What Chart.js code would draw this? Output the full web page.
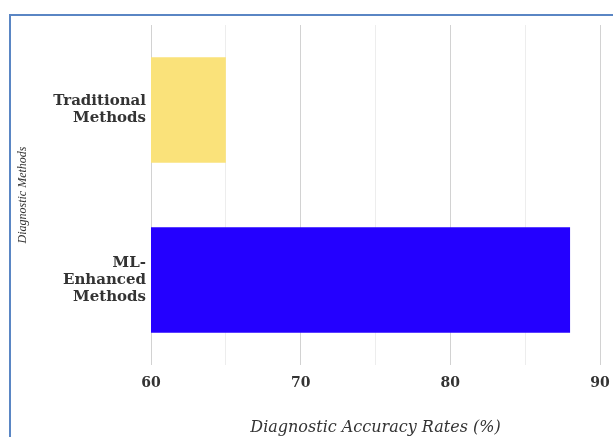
<!DOCTYPE html>
<html>
<head>
<meta charset="utf-8">
<script src="https://cdn.jsdelivr.net/npm/chart.js@4/dist/chart.umd.min.js"></script>
<style>
  html, body { margin: 0; padding: 0; background: #fff; overflow: hidden; }
  #wrap { position: relative; width: 613px; height: 437px; }
  #chart { position: absolute; left: 0; top: 0; }
  #frame {
    position: absolute; left: 9px; top: 14px; width: 640px; height: 460px;
    border-top: 2px solid #5a86c4; border-left: 2px solid #5a86c4;
    pointer-events: none; box-sizing: border-box;
  }
</style>
</head>
<body>
<div id="wrap">
  <canvas id="chart" width="613" height="437"></canvas>
  <div id="frame"></div>
</div>
<script>
// Diagnostic methods and their accuracy rates (%)
const methods = [["Traditional", "Methods"], ["ML-", "Enhanced", "Methods"]];
const accuracy = [65, 88];
const barColors = ["#fae27a", "#2400ff"];
const xMin = 60;
const xMax = 90;
const xStep = 5;

const serifBold = { family: "'DejaVu Serif', serif", size: 15, weight: "bold", lineHeight: 1.13 };

new Chart(document.getElementById("chart"), {
  type: "bar",
  data: {
    labels: methods,
    datasets: [{
      label: "Diagnostic Accuracy Rates (%)",
      data: accuracy,
      backgroundColor: barColors,
      borderWidth: 0,
      categoryPercentage: 1,
      barPercentage: 0.62
    }]
  },
  options: {
    indexAxis: "y",
    responsive: false,
    devicePixelRatio: 1,
    animation: false,
    layout: { padding: { top: 25, right: 13, left: 0, bottom: 0 } },
    plugins: {
      legend: { display: false },
      tooltip: { enabled: false }
    },
    scales: {
      x: {
        min: xMin,
        max: xMax,
        border: { display: false },
        grid: {
          drawTicks: false,
          lineWidth: 1,
          color: (ctx) => (ctx.tick && ctx.tick.value % 10 === 0) ? "#d2d2d2" : "#ededed"
        },
        ticks: {
          stepSize: xStep,
          padding: 10,
          color: "#333",
          font: { family: "'DejaVu Serif', serif", size: 14, weight: "bold" },
          maxRotation: 0,
          autoSkip: false,
          callback: (v) => (v % 10 === 0 ? String(v) : "")
        },
        title: {
          display: true,
          text: "Diagnostic Accuracy Rates (%)",
          color: "#333",
          font: { family: "'DejaVu Serif', serif", size: 16, style: "italic" },
          padding: { top: 0, bottom: 0 }
        },
        afterFit: (scale) => {
          scale.height = 72;
          scale.paddingLeft = 0;
          scale.paddingRight = 0;
        }
      },
      y: {
        border: { display: false },
        grid: { display: false, drawTicks: false },
        ticks: {
          padding: 5,
          color: "#333",
          font: serifBold
        },
        title: {
          display: true,
          text: "Diagnostic Methods",
          color: "#333",
          font: { family: "'Liberation Serif', serif", size: 12, style: "italic" },
          padding: { top: 16, bottom: 0 }
        },
        afterFit: (scale) => {
          scale.width = 151;
          scale.paddingTop = 0;
          scale.paddingBottom = 0;
        }
      }
    }
  }
});
</script>
</body>
</html>
